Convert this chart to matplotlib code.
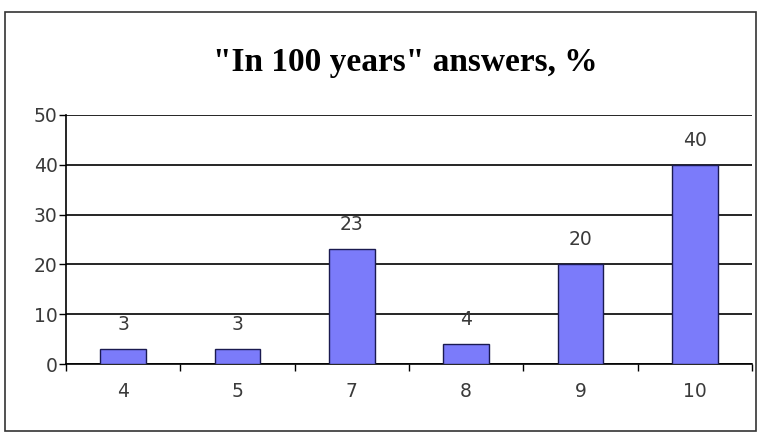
import matplotlib
matplotlib.use('Agg')
import matplotlib.pyplot as plt
from matplotlib.patches import Rectangle
import numpy as np

# data
categories = ['4', '5', '7', '8', '9', '10']
values = [3, 3, 23, 4, 20, 40]
title = '"In 100 years" answers, %'

fig = plt.figure(figsize=(7.59, 4.32), dpi=100)
ax = fig.add_axes([66/759, 1-364/432, (752-66)/759, (364-115)/432])

x = np.arange(len(categories))
bars = ax.bar(x, values, width=0.4, color='#7b7bfa', edgecolor='#1a1a50', linewidth=1.0, zorder=3)

for xi, v in zip(x, values):
    ax.annotate(str(v), (xi, v), xytext=(0, 11), textcoords='offset points',
                ha='center', va='bottom', fontsize=13.5, color='#3a3a3a', family='DejaVu Sans')

ax.set_xlim(-0.5, len(categories)-0.5)
ax.set_ylim(0, 50)
ax.set_yticks(np.arange(0, 51, 10))
ax.set_xticks(x)
ax.set_xticklabels(categories)
ax.set_xticks(np.arange(-0.5, len(categories)), minor=True)
ax.tick_params(axis='x', which='major', length=0, pad=13, labelsize=13.5, labelcolor='#3a3a3a')
ax.tick_params(axis='x', which='minor', length=5, direction='out', width=1)
ax.tick_params(axis='y', length=5, direction='out', width=1, labelsize=13.5, labelcolor='#3a3a3a', pad=1)

ax.grid(axis='y', color='black', linewidth=1.2, zorder=1)
for s in ['top', 'right']:
    ax.spines[s].set_visible(False)
ax.spines['left'].set_linewidth(1.2)
ax.spines['bottom'].set_linewidth(1.2)

fig.text(405/759, 1-63/432, title, ha='center', va='center', fontsize=24,
         fontweight='bold', family='Liberation Serif')

fig.patches.append(Rectangle((5/759, 0.002), 751/759, 1-12/432-0.002, transform=fig.transFigure,
                             fill=False, edgecolor='#333333', linewidth=1.2))

plt.savefig('out.png', dpi=100)
plt.close()
